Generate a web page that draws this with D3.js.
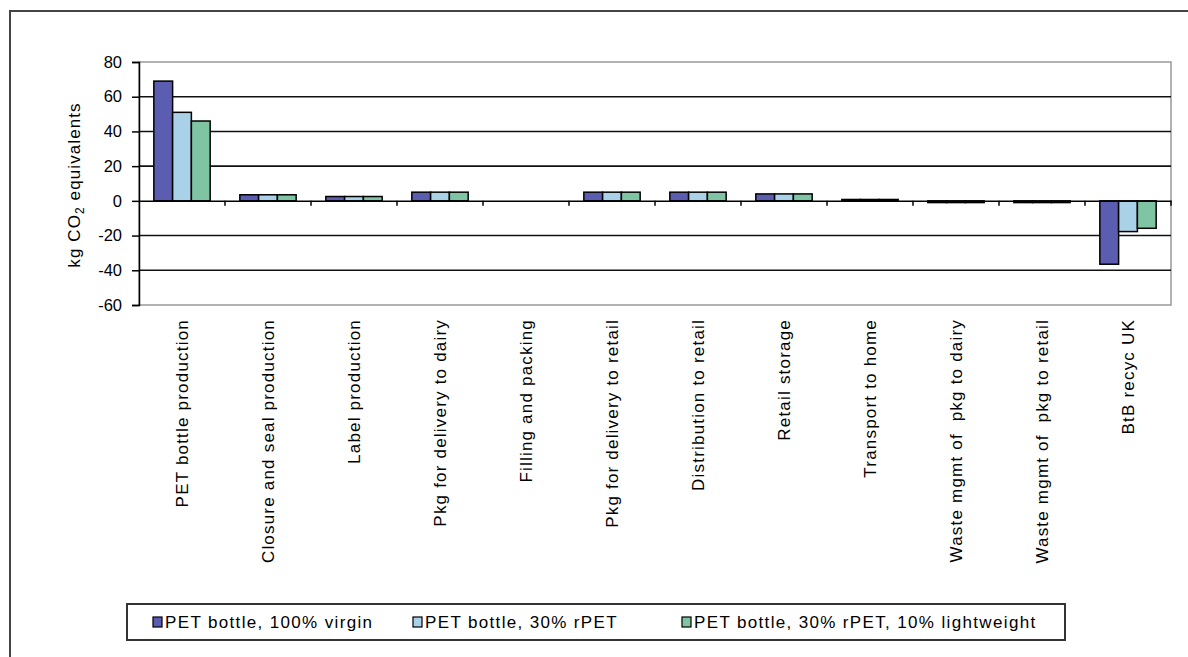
<!DOCTYPE html>
<html>
<head>
<meta charset="utf-8">
<script src="https://cdn.jsdelivr.net/npm/d3@7/dist/d3.min.js"></script>
<style>
  html, body { margin: 0; padding: 0; background: #fff; }
  svg { display: block; }
  text { font-family: "Liberation Sans", Arial, sans-serif; fill: #000; }
</style>
</head>
<body>
<svg id="chart" width="1188" height="657"></svg>
<script>
// Life-cycle stages of a milk bottle
const categories = [
  "PET bottle production",
  "Closure and seal production",
  "Label production",
  "Pkg for delivery to dairy",
  "Filling and packing",
  "Pkg for delivery to retail",
  "Distribution to retail",
  "Retail storage",
  "Transport to home",
  "Waste mgmt of  pkg to dairy",
  "Waste mgmt of  pkg to retail",
  "BtB recyc UK"
];

const seriesNames = [
  "PET bottle, 100% virgin",
  "PET bottle, 30% rPET",
  "PET bottle, 30% rPET, 10% lightweight"
];

// kg CO2 equivalents per stage, one array per bottle variant
const virgin      = [69, 3.5, 2.5, 5, 0, 5, 5, 4, 0.8, -1, -1, -36.5];
const rpet30      = [51, 3.5, 2.5, 5, 0, 5, 5, 4, 0.8, -1, -1, -17.7];
const rpet30Light = [46, 3.5, 2.5, 5, 0, 5, 5, 4, 0.8, -1, -1, -15.8];

const yTicks = [80, 60, 40, 20, 0, -20, -40, -60];
const colors = ["#5a5db0", "#a9d1e7", "#80c5a3"];

const seriesValues = [virgin, rpet30, rpet30Light];

const svg = d3.select("#chart");

// outer chart frame (runs off the right and bottom edges)
svg.append("rect")
  .attr("x", 10).attr("y", 11)
  .attr("width", 1240).attr("height", 700)
  .attr("fill", "none").attr("stroke", "#444").attr("stroke-width", 2);

const plot = { left: 139, right: 1171, top: 62, bottom: 305 };

const y = d3.scaleLinear().domain([-60, 80]).range([plot.bottom, plot.top]);
const x0 = d3.scaleBand().domain(categories).range([plot.left, plot.right]).padding(0);
const x1 = d3.scaleBand().domain(seriesNames).range([0, x0.bandwidth()])
  .paddingInner(0).paddingOuter(0.79);

// plot area border
svg.append("rect")
  .attr("x", plot.left).attr("y", plot.top)
  .attr("width", plot.right - plot.left).attr("height", plot.bottom - plot.top)
  .attr("fill", "none").attr("stroke", "#999").attr("stroke-width", 1.5);

// horizontal grid lines
svg.append("g")
  .selectAll("line")
  .data(yTicks.filter(t => t !== 80 && t !== -60 && t !== 0))
  .join("line")
  .attr("x1", plot.left).attr("x2", plot.right)
  .attr("y1", d => y(d)).attr("y2", d => y(d))
  .attr("stroke", "#111").attr("stroke-width", 1.6);

// bars
const rows = [];
categories.forEach((c, i) => {
  seriesNames.forEach((s, j) => {
    rows.push({ cat: c, series: s, value: seriesValues[j][i], color: colors[j] });
  });
});

svg.append("g")
  .selectAll("rect")
  .data(rows.filter(d => d.value !== 0))
  .join("rect")
  .attr("x", d => x0(d.cat) + x1(d.series))
  .attr("width", x1.bandwidth())
  .attr("y", d => y(Math.max(0, d.value)))
  .attr("height", d => Math.abs(y(d.value) - y(0)))
  .attr("fill", d => d.color)
  .attr("stroke", "#000")
  .attr("stroke-width", 1.5);

// zero line with category ticks
const xAxis = svg.append("g")
  .attr("transform", `translate(0,${y(0)})`)
  .call(d3.axisBottom(x0).tickSize(0).tickFormat(""));
xAxis.select(".domain").attr("stroke", "#000").attr("stroke-width", 1.5);

svg.append("g")
  .selectAll("line")
  .data(categories.slice(1).concat(["__end"]))
  .join("line")
  .attr("x1", (d, i) => plot.left + (i + 1) * x0.step())
  .attr("x2", (d, i) => plot.left + (i + 1) * x0.step())
  .attr("y1", y(0)).attr("y2", y(0) + 5)
  .attr("stroke", "#000").attr("stroke-width", 1.5);

// y axis
const yAxis = svg.append("g")
  .attr("transform", `translate(${plot.left},0)`)
  .call(d3.axisLeft(y).tickValues(yTicks).tickSize(7).tickPadding(10)
    .tickFormat(d => String(d)));
yAxis.select(".domain").attr("stroke", "#000").attr("stroke-width", 1.5);
yAxis.selectAll(".tick line").attr("stroke", "#000").attr("stroke-width", 1.5);
yAxis.selectAll(".tick text")
  .style("font-family", "'Liberation Sans', Arial, sans-serif")
  .style("font-size", "16.5px").attr("fill", "#000");

// y axis title with subscript
const yTitle = svg.append("text")
  .attr("transform", `translate(80,185) rotate(-90)`)
  .attr("text-anchor", "middle")
  .style("font-size", "17px")
  .style("letter-spacing", "1.1px");
yTitle.append("tspan").text("kg CO");
yTitle.append("tspan").attr("dy", 4).style("font-size", "12px").text("2");
yTitle.append("tspan").attr("dy", -4).text(" equivalents");

// category labels, rotated
svg.append("g")
  .selectAll("text")
  .data(categories)
  .join("text")
  .attr("transform", d => `translate(${x0(d) + x0.bandwidth() / 2 + 6},319) rotate(-90)`)
  .attr("text-anchor", "end")
  .style("font-size", "17px")
  .style("letter-spacing", "1.2px")
  .style("white-space", "pre")
  .text(d => d);

// legend
const legend = svg.append("g");
legend.append("rect")
  .attr("x", 127).attr("y", 604).attr("width", 938).attr("height", 36)
  .attr("fill", "#fff").attr("stroke", "#333").attr("stroke-width", 2);

const legendX = [153, 413, 682];
seriesNames.forEach((s, j) => {
  const g = legend.append("g").attr("transform", `translate(${legendX[j]},622)`);
  g.append("rect")
    .attr("x", 0).attr("y", -5).attr("width", 9).attr("height", 10)
    .attr("fill", colors[j]).attr("stroke", "#000").attr("stroke-width", 1.2);
  g.append("text")
    .attr("x", 12).attr("y", 6)
    .style("font-size", "17px")
    .style("letter-spacing", "1.35px")
    .style("white-space", "pre")
    .text(s);
});
</script>
</body>
</html>
